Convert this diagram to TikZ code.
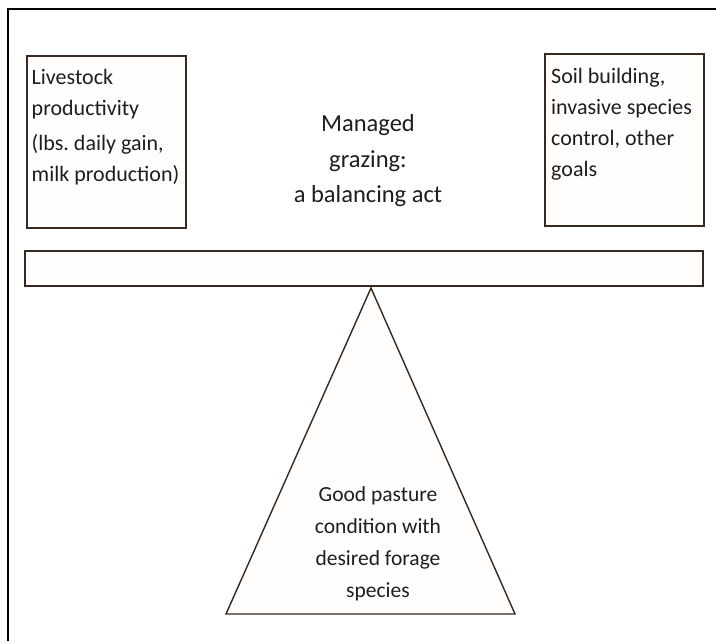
\documentclass[tikz,border=0pt]{standalone}
\usepackage{fontspec}
\setmainfont{Carlito}
\frenchspacing
\definecolor{edge}{RGB}{55,40,32}
\definecolor{cream}{RGB}{255,254,252}
\definecolor{ink}{RGB}{30,30,30}
\begin{document}
\begin{tikzpicture}[x=1pt,y=-1pt,
  boxstyle/.style={draw=edge,line width=1.4pt,fill=cream},
  boxtext/.style={inner sep=0pt,anchor=north west,align=left,text=ink,font=\fontsize{22}{31}\selectfont},
  titletext/.style={inner sep=0pt,anchor=north,align=center,text=ink,font=\fontsize{24.5}{35.5}\selectfont},
  tritext/.style={inner sep=0pt,anchor=north,align=center,text=ink,font=\fontsize{21.5}{32}\selectfont}]
\useasboundingbox (0,0) rectangle (716,641);
\fill[white] (0,0) rectangle (716,641);
% frame
\draw[line width=2pt,black] (8,641) -- (8,9) -- (716,9);
% left box
\draw[boxstyle] (27,56) rectangle (186,228);
\node[boxtext] (lefttext) at (31.5,69.5) {Livestock\\productivity\\[3.5pt](lbs. daily gain,\\milk production)};
% right box
\draw[boxstyle] (545,54) rectangle (704,226);
\node[boxtext] (righttext) at (551,68.5) {Soil building,\\invasive species\\control, other\\goals};
% title
\node[titletext] (title) at (368,114.5) {Managed\\grazing:\\a balancing act};
% beam
\draw[boxstyle] (25,251) rectangle (703,286);
% fulcrum
\coordinate (apex) at (371,288);
\coordinate (bl) at (226,614);
\coordinate (br) at (515,614);
\draw[draw=edge,line width=1.4pt,fill=cream,line join=miter] (apex) -- (br) -- (bl) -- cycle;
\node[tritext] (tritxt) at (378,486) {Good pasture\\condition with\\desired forage\\species};
\end{tikzpicture}
\end{document}
